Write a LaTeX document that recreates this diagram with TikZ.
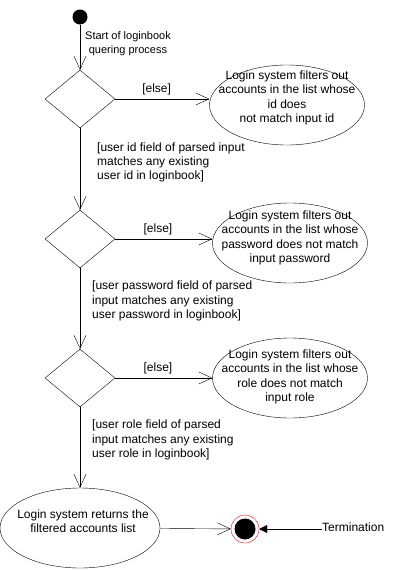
\documentclass[tikz,border=0pt]{standalone}
\usepackage{fontspec}
\setmainfont{Liberation Sans}
\usetikzlibrary{shapes.geometric,arrows.meta}

\begin{document}
\begin{tikzpicture}[x=1pt,y=-1pt]
\tikzstyle{every node}+=[inner sep=0pt, font=\fontsize{12}{14.4}\selectfont]
\tikzstyle{act}=[draw, ellipse, minimum width=155pt, minimum height=80pt]
\tikzstyle{dec}=[draw, diamond, minimum width=70pt, minimum height=58pt]
\tikzstyle{flow}=[draw, -{Straight Barb[length=13pt,width=12pt]}]
\tikzstyle{guard}=[align=left, anchor=west]
\useasboundingbox (0,0) rectangle (401,570);
\node[circle, fill, minimum size=15pt] (start) at (80,17) {};
\node[dec] (d1) at (80,99) {};
\node[dec] (d2) at (80,239) {};
\node[dec] (d3) at (80,378) {};
\node[act] (a1) at (287,105) {};
\node[align=center] (a1t) at (287,98) {Login system filters out\\accounts in the list whose\\id does\\not match input id};
\node[act] (a2) at (290,243) {};
\node[align=center] (a2t) at (290,238) {Login system filters out\\accounts in the list whose\\password does not match\\input password};
\node[act] (a3) at (290,378) {};
\node[align=center] (a3t) at (290,377) {Login system filters out\\accounts in the list whose\\role does not match\\input role};
\node[act, minimum width=160pt] (a4) at (80,528) {};
\node[align=center] (a4t) at (83,521) {Login system returns the\\filtered accounts list};
\node[circle, draw=red, fill=white, minimum size=28pt] (ring) at (245,529) {};
\node[circle, fill, minimum size=21pt] (end) at (ring) {};
\node[anchor=west] (term) at (322,527) {Termination};
\draw[flow] (start) -- node[anchor=west, align=center, pos=0.42, xshift=5pt, font=\fontsize{11}{14}\selectfont]{Start of loginbook\\quering process} (d1);
\draw[flow] (d1) -- node[pos=0.44, above=4pt]{[else]} (d1 -| a1.west);
\draw[flow] (d1) -- node[guard, pos=0.42, xshift=17pt]{[user id field of parsed input\\matches any existing\\user id in loginbook]} (d2);
\draw[flow] (d2) -- node[pos=0.44, above=4pt]{[else]} (d2 -| a2.west);
\draw[flow] (d2) -- node[guard, pos=0.41, xshift=12pt]{[user password field of parsed\\input matches any existing\\user password in loginbook]} (d3);
\draw[flow] (d3) -- node[pos=0.44, above=4pt]{[else]} (a3);
\draw[flow] (d3) -- node[guard, pos=0.41, xshift=12pt]{[user role field of parsed\\input matches any existing\\user role in loginbook]} (a4);
\draw[flow] (a4) -- (ring);
\draw[-{Triangle[length=8pt,width=8pt]}] (term.west |- ring) -- (ring);
\end{tikzpicture}
\end{document}
